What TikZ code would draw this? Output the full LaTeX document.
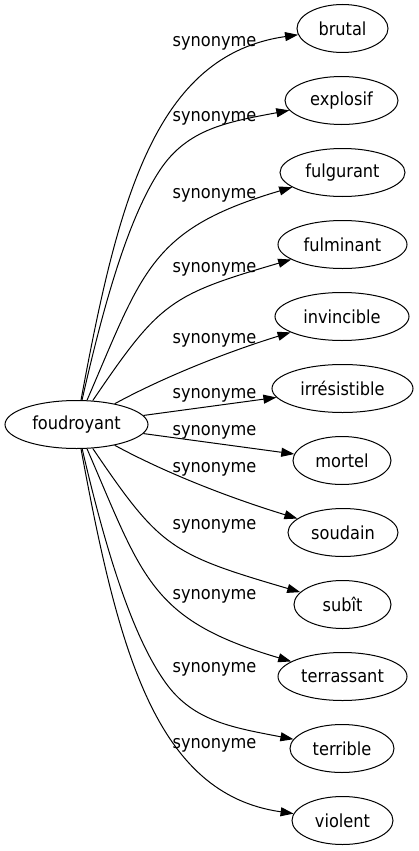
\documentclass[tikz,border=0pt]{standalone}
\usepackage{fontspec}
\setmainfont{DejaVu Sans Condensed}
\usetikzlibrary{arrows.meta,shapes.geometric}
\begin{document}
\begin{tikzpicture}[x=1pt,y=-1pt,
  every node/.style={font=\fontsize{18}{22}\selectfont},
  word/.style={draw,ellipse,line width=1pt,minimum height=48pt,inner sep=0pt},
  rel/.style={line width=1pt,-{Triangle[length=13pt,width=9pt]}},
  lab/.style={anchor=base,inner sep=0pt}]
\useasboundingbox (0,0) rectangle (418,851);
\node[word,minimum width=143pt] (root) at (76.5,424.5) {foudroyant};
\node[word,minimum width=91pt]  (n1)  at (342.5,28.5)  {brutal};
\node[word,minimum width=113pt] (n2)  at (341.5,100.5) {explosif};
\node[word,minimum width=125pt] (n3)  at (342.5,172.5) {fulgurant};
\node[word,minimum width=129pt] (n4)  at (342.5,244.5) {fulminant};
\node[word,minimum width=134pt] (n5)  at (342,316.5)   {invincible};
\node[word,minimum width=141pt] (n6)  at (342.5,388.5) {irrésistible};
\node[word,minimum width=98pt]  (n7)  at (342,460.5)   {mortel};
\node[word,minimum width=110pt] (n8)  at (343,532.5)   {soudain};
\node[word,minimum width=97pt]  (n9)  at (342.5,604.5) {subît};
\node[word,minimum width=129pt] (n10) at (342.5,676.5) {terrassant};
\node[word,minimum width=104pt] (n11) at (342,748.5)   {terrible};
\node[word,minimum width=101pt] (n12) at (342.5,820.5) {violent};

\coordinate (w2) at (160,170);
\coordinate (w11) at (163,679);

\draw[rel] (root) .. controls (118,200) and (155,55) .. (n1);
\draw[rel] (root) .. controls (102.3,310.6) and (127,219.8) .. (w2)
                  .. controls (187.5,128.5) and (228,121.9) .. (n2);
\draw[rel] (root) .. controls (143,271) and (150,229) .. (n3);
\draw[rel] (root) .. controls (160,301.5) and (170,295) .. (n4);
\draw[rel] (root) .. controls (164.4,376.7) and (227,352) .. (n5);
\draw[rel] (root) -- (n6);
\draw[rel] (root) -- (n7);
\draw[rel] (root) .. controls (164.4,472.3) and (227,497) .. (n8);
\draw[rel] (root) .. controls (160,547.5) and (170,554) .. (n9);
\draw[rel] (root) .. controls (143,578) and (150,620) .. (n10);
\draw[rel] (root) .. controls (103,538.4) and (129,629.2) .. (w11)
                  .. controls (190.5,720.5) and (230,727.1) .. (n11);
\draw[rel] (root) .. controls (118,649) and (155,794) .. (n12);

\node[lab] (l1)  at (214.5,47)  {synonyme};
\node[lab] (l2)  at (214.5,121) {synonyme};
\node[lab] (l3)  at (214.5,198) {synonyme};
\node[lab] (l4)  at (214.5,272) {synonyme};
\node[lab] (l5)  at (214.5,343) {synonyme};
\node[lab] (l6)  at (214.5,398) {synonyme};
\node[lab] (l7)  at (214.5,435) {synonyme};
\node[lab] (l8)  at (214.5,472) {synonyme};
\node[lab] (l9)  at (214.5,529) {synonyme};
\node[lab] (l10) at (214.5,599) {synonyme};
\node[lab] (l11) at (214.5,672) {synonyme};
\node[lab] (l12) at (214.5,748) {synonyme};
\end{tikzpicture}
\end{document}
